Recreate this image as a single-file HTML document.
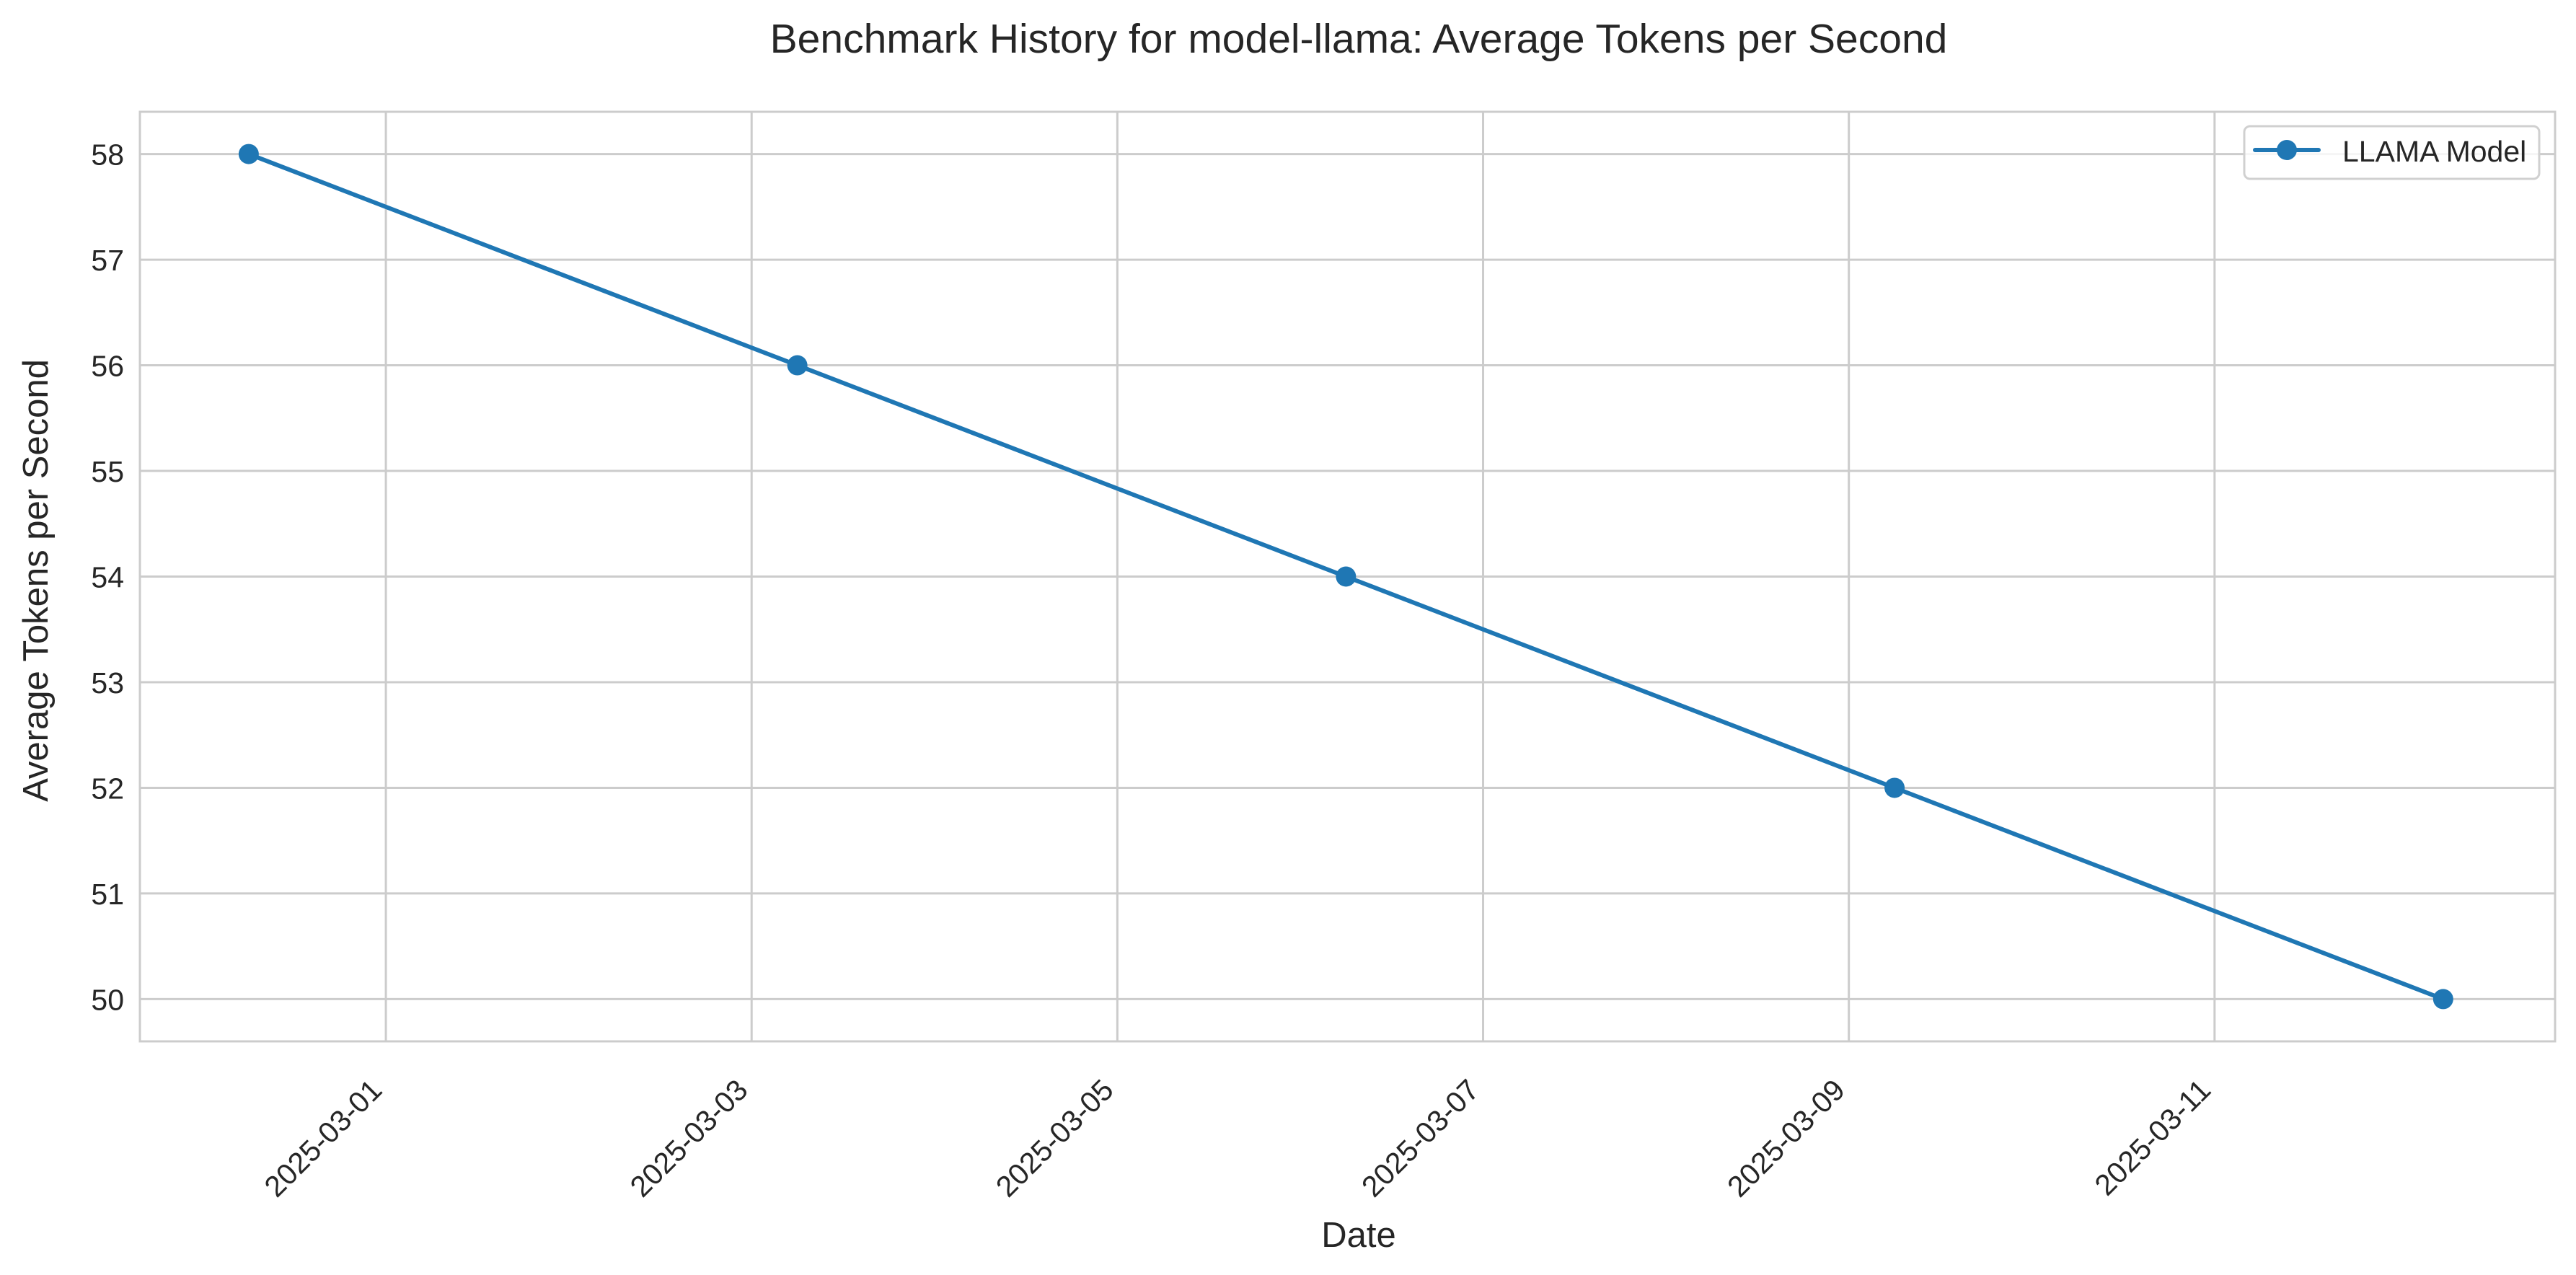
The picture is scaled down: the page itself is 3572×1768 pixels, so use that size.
<!DOCTYPE html>
<html><head><meta charset="utf-8">
<style>
html,body{margin:0;padding:0;background:#fff;}
svg{display:block;font-family:"Liberation Sans",Arial,sans-serif;}
</style></head>
<body>
<svg id="chart" width="3572" height="1768" viewBox="0 0 3572 1768" xmlns="http://www.w3.org/2000/svg">
<rect width="3572" height="1768" fill="#fff"/>
<g id="grid"></g>
<g id="ticks"></g>
<g id="series"></g>
<rect x="194" y="155" width="3349" height="1289" fill="none" stroke="#cccccc" stroke-width="3"/>
<text x="1884" y="73" font-size="57" text-anchor="middle" fill="#262626">Benchmark History for model-llama: Average Tokens per Second</text>
<text x="1884" y="1729" font-size="49" text-anchor="middle" fill="#262626">Date</text>
<text transform="translate(66,805) rotate(-90)" font-size="49" text-anchor="middle" fill="#262626">Average Tokens per Second</text>
<g>
<rect x="3112" y="175" width="409" height="73" rx="8" fill="#fff" fill-opacity="0.8" stroke="#d0d0d0" stroke-width="3"/>
<line x1="3127" y1="208" x2="3215" y2="208" stroke="#1f77b4" stroke-width="6" stroke-linecap="round"/>
<circle cx="3171" cy="208" r="14" fill="#1f77b4"/>
<text x="3248" y="224" font-size="41" fill="#262626">LLAMA Model</text>
</g>
</svg>
<script>
const dates = ["2025-02-28T06:00","2025-03-03T06:00","2025-03-06T06:00","2025-03-09T06:00","2025-03-12T06:00"];
const tokensPerSecond = [58, 56, 54, 52, 50];
const yTicks = [50, 51, 52, 53, 54, 55, 56, 57, 58];
const xTickLabels = ["2025-03-01","2025-03-03","2025-03-05","2025-03-07","2025-03-09","2025-03-11"];

const NS = "http://www.w3.org/2000/svg";
const L = 194, R = 3543, T = 155, B = 1444;
const dayMs = 86400000;
const d0 = Date.parse("2025-03-01T00:00:00Z");
const xMin = d0 - 1.345 * dayMs, xMax = d0 + 11.862 * dayMs;
const yMin = 49.6, yMax = 58.4;
function toMs(s){ return Date.parse(s.length > 10 ? s + ":00Z" : s + "T00:00:00Z"); }
function xScale(s){ return L + (toMs(s) - xMin) / (xMax - xMin) * (R - L); }
function yScale(v){ return B - (v - yMin) / (yMax - yMin) * (B - T); }
function mk(tag, attrs, parent){
  const e = document.createElementNS(NS, tag);
  for (const k in attrs) e.setAttribute(k, attrs[k]);
  parent.appendChild(e);
  return e;
}
const grid = document.getElementById('grid');
const ticks = document.getElementById('ticks');
const series = document.getElementById('series');

yTicks.forEach(v => {
  const y = yScale(v);
  const g = mk('line', {x1:L, x2:R, y1:y, y2:y, stroke:'#cccccc', 'stroke-width':3}, grid);
  
  
  const t = mk('text', {x:L - 22, y:y + 15, 'font-size':41, 'text-anchor':'end', fill:'#262626'}, ticks);
  t.textContent = String(v);
  
  
});
xTickLabels.forEach(s => {
  const x = xScale(s);
  const g = mk('line', {x1:x, x2:x, y1:T, y2:B, stroke:'#cccccc', 'stroke-width':3}, grid);
  
  
  const t = mk('text', {transform:'translate(' + (x - 3) + ',1514) rotate(-45)', 'font-size':41, 'text-anchor':'end', fill:'#262626'}, ticks);
  t.textContent = s;
  
  
});
const pts = dates.map((d, i) => xScale(d) + ',' + yScale(tokensPerSecond[i])).join(' ');
const line = mk('polyline', {points:pts, fill:'none', stroke:'#1f77b4', 'stroke-width':6, 'stroke-linejoin':'round', 'stroke-linecap':'round'}, series);


dates.forEach((d, i) => {
  const c = mk('circle', {cx:xScale(d), cy:yScale(tokensPerSecond[i]), r:14, fill:'#1f77b4'}, series);
  
  
});
</script>
</body></html>
